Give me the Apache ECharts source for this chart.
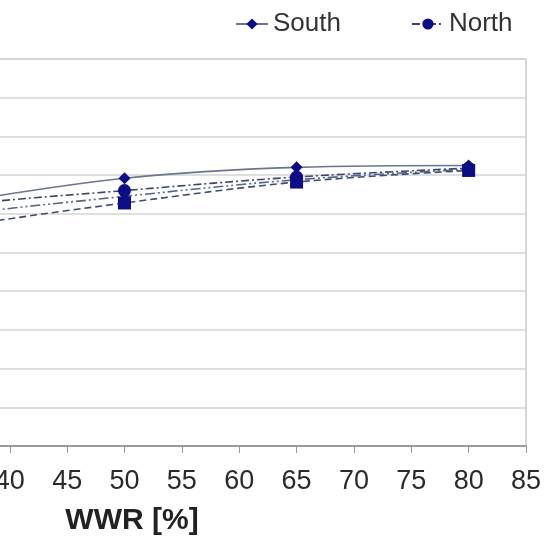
<!DOCTYPE html>
<html>
<head>
<meta charset="utf-8">
<script src="https://cdn.jsdelivr.net/npm/echarts@6/dist/echarts.min.js"></script>
<style>html,body{margin:0;padding:0;background:#fff;overflow:hidden;width:551px;height:543px;}
#c{position:absolute;left:-277px;top:0;width:828px;height:543px;}</style>
</head>
<body>
<div id="c"></div>
<script>
// WWR values [%]
const wwr = [20, 35, 50, 65, 80];
// Series values (y units, axis 0..10)
const south = [5.5, 6.28, 6.92, 7.2, 7.25];
const north = [5.5, 6.2, 6.6, 6.95, 7.18];
const east  = [4.9, 5.65, 6.28, 6.82, 7.12];
const west  = [5.2, 5.95, 6.45, 6.88, 7.15];
const xTicks = { min: 15, max: 85, step: 5 };
const yTicks = { min: 0, max: 10, step: 1 };

const pairs = arr => wwr.map((x, i) => [x, arr[i]]);
const FONT = '"Liberation Sans", Arial, sans-serif';
const markerColor = '#0d0d85';
const SHIFT = 277; // part of the chart lying left of the visible window

function line(name, data, symbol, type, color, size) {
  return {
    name, type: 'line', data: pairs(data), smooth: 0.35,
    symbol, symbolSize: size,
    itemStyle: { color: markerColor },
    lineStyle: { color, width: 1.6, type },
    z: 3
  };
}

const chart = echarts.init(document.getElementById('c'));
chart.setOption({
  animation: false,
  backgroundColor: '#fff',
  legend: {
    data: ['South', 'North'],
    left: 230 + SHIFT, top: 6,
    itemWidth: 32, itemHeight: 14, itemGap: 70,
    textStyle: { fontFamily: FONT, fontSize: 26, color: '#333' }
  },
  grid: {
    left: 0, right: 25, top: 59, bottom: 97,
    outerBoundsMode: 'none', containLabel: false,
    show: true, borderColor: '#b0b0b0', borderWidth: 1, backgroundColor: 'transparent'
  },
  xAxis: {
    type: 'value', min: xTicks.min, max: xTicks.max, interval: xTicks.step,
    name: 'WWR [%]', nameLocation: 'middle', nameGap: 60,
    nameTextStyle: { fontFamily: FONT, fontSize: 30, fontWeight: 'bold', color: '#222', padding: [0, 0, 0, 15] },
    axisLine: { lineStyle: { color: '#888', width: 1.5 } },
    axisTick: { show: true, inside: false, length: 7, lineStyle: { color: '#999' } },
    axisLabel: { fontFamily: FONT, fontSize: 27, color: '#2a2a2a', margin: 22 },
    splitLine: { show: false }
  },
  yAxis: {
    type: 'value', min: yTicks.min, max: yTicks.max, interval: yTicks.step,
    axisLine: { show: false }, axisTick: { show: false }, axisLabel: { show: false },
    splitLine: { lineStyle: { color: '#d4d4d4', width: 1.5 } }
  },
  series: [
    line('East', east, 'rect', [7, 4], '#3e4b72', 13),
    line('West', west, 'triangle', [10, 3, 2, 3, 2, 3], '#55648a', 13),
    line('North', north, 'circle', [8, 3, 2, 3], '#3a4670', 13),
    line('South', south, 'diamond', 'solid', '#6c7590', 12)
  ]
});
</script>
</body>
</html>
